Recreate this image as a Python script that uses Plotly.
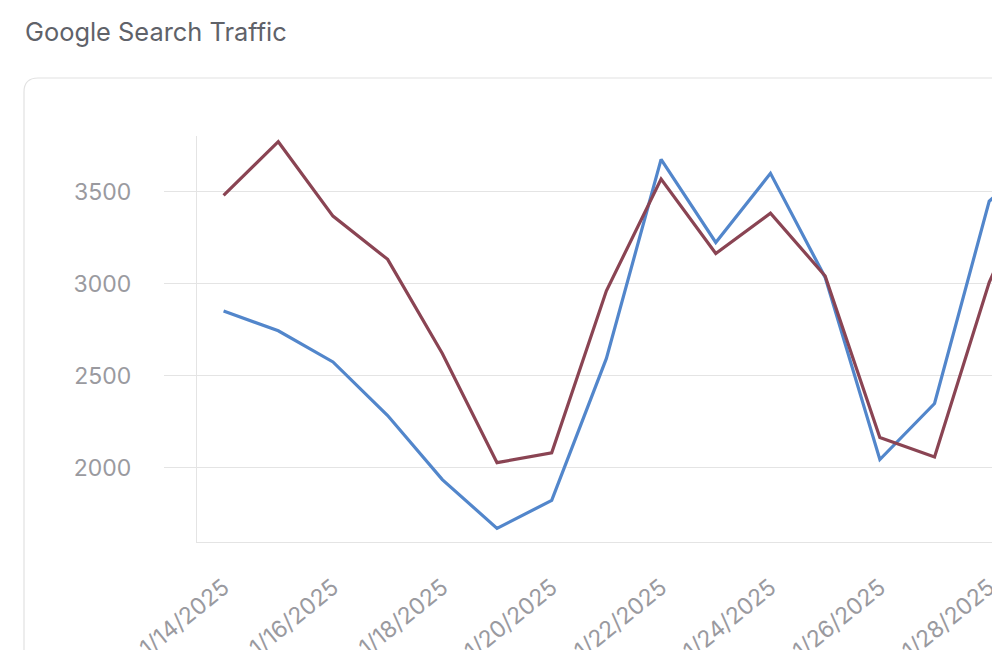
import plotly.graph_objects as go

# daily Google search traffic, two series
dates = ["1/14/2025", "1/15/2025", "1/16/2025", "1/17/2025", "1/18/2025",
         "1/19/2025", "1/20/2025", "1/21/2025", "1/22/2025", "1/23/2025",
         "1/24/2025", "1/25/2025", "1/26/2025", "1/27/2025", "1/28/2025",
         "1/29/2025"]
series_blue = [2852, 2745, 2576, 2285, 1937, 1672, 1824, 2595, 3676, 3225,
               3600, 3035, 2046, 2350, 3449, 3710]
series_red = [3480, 3772, 3368, 3133, 2622, 2029, 2082, 2962, 3569, 3165,
              3384, 3043, 2165, 2060, 3008, 3675]
y_ticks = [2000, 2500, 3000, 3500]

# page has an 8px body margin, so the figure is 8px smaller than the window
W, H = 992, 642
L, R, T, B = 189, 0, 128, 108  # plot area in px
pw, ph = W - L - R, H - T - B

def px_x(px):  # pixel -> paper
    return (px - L) / pw

def px_y(py):
    return (H - B - py) / ph

grid = "#e4e4e4"
tick_col = "#9a9a9f"

fig = go.Figure()
fig.add_trace(go.Scatter(x=dates, y=series_blue, mode="lines",
                         line=dict(color="#5286cb", width=3.2), hoverinfo="skip"))
fig.add_trace(go.Scatter(x=dates, y=series_red, mode="lines",
                         line=dict(color="#8a4453", width=3.2), hoverinfo="skip"))

# card outline with rounded top-left corner (runs off the window)
cx, cy, rad = 16, 70, 14
x0, y0 = px_x(cx), px_y(cy)
xr, yr = px_x(cx + rad), px_y(cy + rad)
card = (f"M {x0},{px_y(H + 50)} L {x0},{yr} Q {x0},{y0} {xr},{y0} "
        f"L {px_x(W + 50)},{y0}")

fig.update_layout(
    width=W, height=H,
    margin=dict(l=L, r=R, t=T, b=B),
    paper_bgcolor="white", plot_bgcolor="white",
    showlegend=False,
    font=dict(family="Inter, Roboto, sans-serif", color=tick_col),
    title=dict(text="Google Search Traffic", x=17 / W, xanchor="left",
               xref="container", y=1 - 24 / H, yanchor="middle", yref="container",
               font=dict(size=25.4, color="#5f6269")),
    shapes=[dict(type="path", path=card, xref="paper", yref="paper",
                 line=dict(color="#e2e2e2", width=1.2), layer="below")],
)

fig.update_xaxes(
    type="category",
    range=[-0.486, 14.197],
    tickvals=dates[::2],
    tickangle=-39,
    showgrid=False,
    showline=True, linecolor=grid, linewidth=1.2,
    ticks="", ticklabelstandoff=22,
    tickfont=dict(size=23, color=tick_col),
    automargin=False,
)
fig.update_yaxes(
    range=[1598, 3803],
    tickvals=y_ticks,
    showgrid=True, gridcolor=grid, gridwidth=1.2,
    showline=True, linecolor=grid, linewidth=1.2,
    ticks="outside", ticklen=32, tickcolor=grid, tickwidth=1.2,
    ticklabelstandoff=28,
    tickfont=dict(size=23, color=tick_col),
    zeroline=False,
    automargin=False,
)

fig.write_html("out.html")
